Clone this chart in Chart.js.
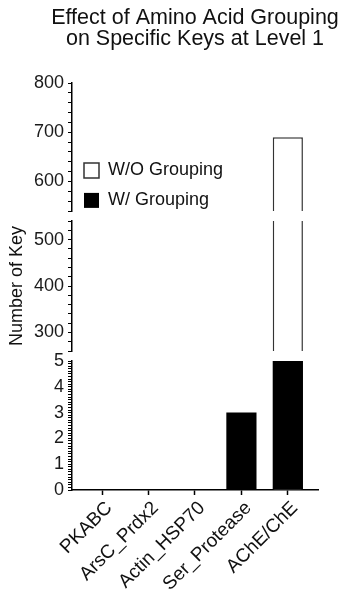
<!DOCTYPE html>
<html>
<head>
<meta charset="utf-8">
<script src="https://cdn.jsdelivr.net/npm/chart.js@4.4.1/dist/chart.umd.min.js"></script>
<style>
  html, body { margin: 0; padding: 0; background: #fff; }
</style>
</head>
<body>
<canvas id="keys-chart" width="343" height="595"></canvas>
<script>
// data
var categories = ['PKABC', 'ArsC_Prdx2', 'Actin_HSP70', 'Ser_Protease', 'AChE/ChE'];
var withoutGrouping = [0, 0, 0, 0, 690];
var withGrouping = [0, 0, 0, 3, 5];

// broken y axis, three segments (bottom -> top)
var lowRange = [0, 5];
var midRange = [260, 540];
var topRange = [540, 800];
var lowLabels = [0, 1, 2, 3, 4, 5];
var midLabels = [300, 400, 500];
var topLabels = [600, 700, 800];
var lowMinorStep = 0.1;
var highMinorStep = 20;

Chart.defaults.font.family = "'Liberation Sans', Arial, sans-serif";
Chart.defaults.color = '#111';

function toPoints(values) {
    return categories.map(function(c, i) {
        return { x: i, y: values[i] };
    });
}

function buildTicks(range, step) {
    var ticks = [];
    var n = Math.round((range[1] - range[0]) / step);
    for (var i = 0; i <= n; i++) {
        ticks.push({ value: Math.round((range[0] + i * step) * 1000) / 1000 });
    }
    return ticks;
}

function segmentAxis(range, labels, step, weight, title) {
    return {
        type: 'linear',
        position: 'left',
        stack: 'keys',
        stackWeight: weight,
        min: range[0],
        max: range[1],
        beginAtZero: false,
        afterBuildTicks: function(scale) {
            scale.ticks = buildTicks(range, step);
        },
        afterFit: function(scale) {
            scale.width = 72;
        },
        border: { display: true, color: '#000', width: 1.5 },
        grid: {
            drawOnChartArea: false,
            drawTicks: true,
            tickLength: 4,
            tickColor: '#000',
            tickWidth: 1
        },
        ticks: {
            autoSkip: false,
            padding: 4,
            color: '#1a1a1a',
            font: { size: 18 },
            callback: function(value) {
                return labels.indexOf(value) >= 0 ? String(value) : '';
            }
        },
        title: title || { display: false }
    };
}

function gapAxis(weight) {
    return {
        type: 'linear',
        position: 'left',
        stack: 'keys',
        stackWeight: weight,
        display: false,
        afterFit: function(scale) {
            scale.width = 72;
        }
    };
}

// keep each segment's bars inside its own strip
var segmentClip = {
    id: 'segmentClip',
    beforeDatasetDraw: function(chart, args) {
        var y = args.meta.yScale;
        var ctx = chart.ctx;
        ctx.save();
        ctx.beginPath();
        ctx.rect(chart.chartArea.left, y.top, chart.chartArea.right - chart.chartArea.left, y.bottom - y.top);
        ctx.clip();
    },
    afterDatasetDraw: function(chart) {
        chart.ctx.restore();
    }
};

// center the title over the plot area without squeezing it
var titleOverPlot = {
    id: 'titleOverPlot',
    afterLayout: function(chart) {
        var t = chart.titleBlock;
        var shift = (chart.chartArea.left + chart.chartArea.right) / 2 - (t.left + t.right) / 2;
        t.left += shift;
        t.right += shift;
    }
};

var openBar = {
    label: 'W/O Grouping',
    backgroundColor: '#fff',
    borderColor: '#333',
    borderWidth: 1.5,
    order: 1
};

var datasets = [
    Object.assign({}, openBar, { data: toPoints(withoutGrouping), yAxisID: 'yLow' }),
    {
        label: 'W/ Grouping',
        data: toPoints(withGrouping),
        yAxisID: 'yLow',
        backgroundColor: '#000',
        borderColor: '#000',
        borderWidth: 0,
        order: 0
    },
    Object.assign({}, openBar, { data: toPoints(withoutGrouping), yAxisID: 'yMid' }),
    Object.assign({}, openBar, { data: toPoints(withoutGrouping), yAxisID: 'yTop' })
];

new Chart(document.getElementById('keys-chart'), {
    type: 'bar',
    data: { datasets: datasets },
    plugins: [segmentClip, titleOverPlot],
    options: {
        responsive: false,
        animation: false,
        devicePixelRatio: 1,
        layout: { padding: { left: 0, right: 25, top: 0, bottom: 0 } },
        datasets: {
            bar: {
                grouped: false,
                categoryPercentage: 1,
                barPercentage: 0.65
            }
        },
        plugins: {
            title: {
                display: true,
                fullSize: true,
                text: ['Effect of Amino Acid Grouping', 'on Specific Keys at Level 1'],
                color: '#111',
                font: { size: 21.5, weight: 'normal', lineHeight: 1.0 },
                padding: { top: 7, bottom: 33 }
            },
            legend: {
                position: 'chartArea',
                align: 'start',
                // empty title only pushes the legend down inside the plot
                title: {
                    display: true,
                    text: '',
                    font: { size: 12 },
                    padding: { top: 135, bottom: 0 }
                },
                labels: {
                    boxWidth: 15,
                    boxHeight: 15,
                    padding: 12,
                    color: '#111',
                    font: { size: 18 },
                    filter: function(item) {
                        return item.datasetIndex < 2;
                    },
                    sort: function(a, b) {
                        return a.datasetIndex - b.datasetIndex;
                    }
                }
            },
            tooltip: { enabled: false }
        },
        scales: {
            x: {
                type: 'linear',
                min: -0.65,
                max: 4.65,
                offset: false,
                afterBuildTicks: function(scale) {
                    scale.ticks = categories.map(function(c, i) {
                        return { value: i };
                    });
                },
                afterFit: function(scale) {
                    scale.height = 105;
                },
                border: { display: true, color: '#000', width: 1.5 },
                grid: {
                    offset: false,
                    drawOnChartArea: false,
                    tickLength: 5,
                    tickColor: '#000',
                    tickWidth: 1.5
                },
                ticks: {
                    autoSkip: false,
                    minRotation: 45,
                    maxRotation: 45,
                    padding: 2,
                    labelOffset: 7,
                    color: '#111',
                    font: { size: 19 },
                    callback: function(value) {
                        return categories[value];
                    }
                }
            },
            yLow: segmentAxis(lowRange, lowLabels, lowMinorStep, 12.9),
            gapLow: gapAxis(1),
            yMid: segmentAxis(midRange, midLabels, highMinorStep, 13, {
                display: true,
                text: 'Number of Key',
                color: '#111',
                font: { size: 18 },
                padding: { top: 6, bottom: 0 }
            }),
            gapHigh: gapAxis(1),
            yTop: segmentAxis(topRange, topLabels, highMinorStep, 12.8)
        }
    }
});
</script>
</body>
</html>
